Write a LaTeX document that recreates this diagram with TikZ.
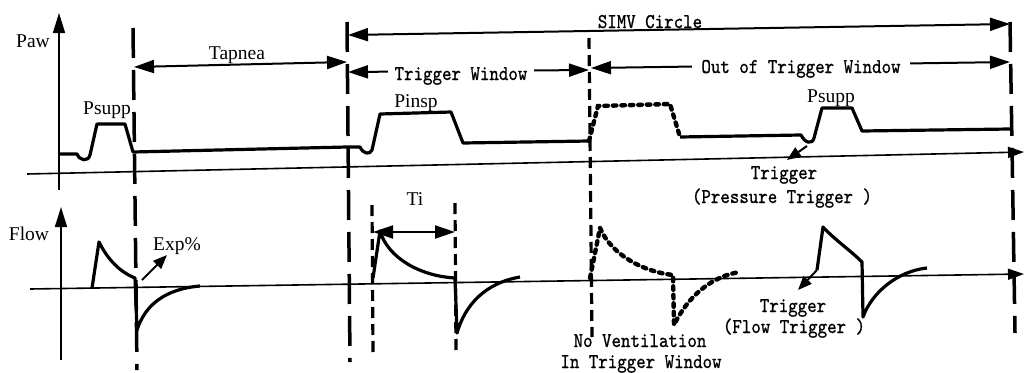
\documentclass[tikz,border=0pt]{standalone}
\usepackage{fontspec}
\setmainfont{Liberation Serif}
\newfontfamily\simfont[FakeStretch=0.86,FakeBold=0.8]{lmmono10-regular.otf}
\usetikzlibrary{arrows.meta}
\begin{document}
\begin{tikzpicture}[x=1pt,y=-1pt,
 wave/.style={line width=3.2pt, line join=round},
 dotwave/.style={line width=4.4pt, line cap=round, dash pattern=on 3.5pt off 5pt},
 bigdash/.style={line width=3.5pt, dash pattern=on 30pt off 12pt},
 smalldash/.style={line width=3.2pt, dash pattern=on 11pt off 6pt},
 baseln/.style={line width=1.6pt, -{Triangle[length=16pt,width=11pt]}},
 axisln/.style={line width=1.6pt, -{Triangle[length=20pt,width=12pt]}},
 dimarrow/.style={line width=2pt, {Triangle[length=20pt,width=13pt]}-{Triangle[length=20pt,width=13pt]}},
 ptr/.style={line width=2pt, -{Triangle[length=14pt,width=11pt]}},
 serif/.style={font=\fontsize{19.5}{20}\selectfont, inner sep=0pt, anchor=base},
 mono/.style={font=\simfont\fontsize{21}{22}\selectfont, inner sep=0pt, anchor=base},
]
\useasboundingbox (0,0) rectangle (1024,372);

% axes and base lines
\coordinate (pawA) at (59,190); \coordinate (pawB) at (59,13);
\coordinate (flwA) at (61,360); \coordinate (flwB) at (61,207);
\coordinate (pbA) at (27,174); \coordinate (pbB) at (1024,152);
\coordinate (fbA) at (30,289); \coordinate (fbB) at (1024,274);
\draw[axisln] (pawA) -- (pawB);
\draw[axisln] (flwA) -- (flwB);
\draw[baseln] (pbA) -- (pbB);
\draw[baseln] (fbA) -- (fbB);

% vertical dashed lines
\coordinate (l1a) at (133,28);  \coordinate (l1b) at (137,370);
\coordinate (l2a) at (347,22);  \coordinate (l2b) at (350,362);
\coordinate (l3a) at (589,38);  \coordinate (l3b) at (592,337);
\coordinate (l4a) at (1010,22); \coordinate (l4b) at (1015,333);
\coordinate (ti1a) at (372,205); \coordinate (ti1b) at (373,353);
\coordinate (ti2a) at (455,203); \coordinate (ti2b) at (456,352);
\draw[bigdash] (l1a) -- (l1b);
\draw[bigdash] (l2a) -- (l2b);
\draw[bigdash] (l4a) -- (l4b);
\draw[smalldash] (l3a) -- (l3b);
\draw[smalldash] (ti1a) -- (ti1b);
\draw[smalldash] (ti2a) -- (ti2b);

% pressure waveform
\draw[wave] (58,154) -- (77,154) .. controls (80,161) and (88,162) .. (90,155)
  -- (97,124) -- (125,124) -- (133,152) -- (347,147) -- (360,147)
  .. controls (363,154) and (370,155) .. (372,150) -- (380,114) -- (451,112)
  -- (463,143) -- (589,141);
\draw[dotwave] (589,141) -- (598,106) -- (670,104) -- (680,137);
\draw[wave] (680,137) -- (801,135) .. controls (805,143) and (812,145) .. (814,138)
  -- (822,108) -- (852,108) -- (862,131) -- (1010,129);

% flow waveform
\draw[wave] (92,288) -- (99,242) .. controls (108,260) and (120,272) .. (135,278)
  -- (137,330) .. controls (145,305) and (165,289) .. (200,286);
\draw[wave] (373,278) -- (380,231) .. controls (388,258) and (420,276) .. (455,278)
  -- (457,333) .. controls (465,305) and (485,283) .. (520,277);
\draw[dotwave] (590,278) -- (600,228) .. controls (612,256) and (645,272) .. (673,275)
  -- (674,325) .. controls (688,296) and (712,276) .. (740,272);
\draw[wave] (817,270) -- (823,227) .. controls (835,240) and (850,250) .. (862,262)
  -- (863,317) .. controls (872,292) and (898,271) .. (927,268);

% dimension arrows
\coordinate (t1) at (134,67);  \coordinate (t2) at (347,62);
\coordinate (s1) at (348,35);  \coordinate (s2) at (1010,24);
\coordinate (w1) at (348,72);  \coordinate (w2) at (589,70);
\coordinate (o1) at (591,68);  \coordinate (o2) at (1010,62);
\coordinate (d1) at (373,232); \coordinate (d2) at (455,232);
\draw[dimarrow] (t1) -- (t2);
\draw[dimarrow] (s1) -- (s2);
\draw[dimarrow] (w1) -- (w2);
\draw[dimarrow] (o1) -- (o2);
\draw[dimarrow] (d1) -- (d2);

% pointer arrows
\coordinate (e1) at (142,280); \coordinate (e2) at (167,255);
\coordinate (p1) at (807,146); \coordinate (p2) at (787,160);
\coordinate (f1) at (817,270); \coordinate (f2) at (798,290);
\draw[ptr] (e1) -- (e2);
\draw[ptr] (p1) -- (p2);
\draw[ptr] (f1) -- (f2);

% labels
\node[serif] (paw) at (33,47) {Paw};
\node[serif] (flow) at (29,240) {Flow};
\node[serif] (psupp1) at (107,114) {Psupp};
\node[serif] (tapnea) at (237,59) {Tapnea};
\node[serif] (pinsp) at (416,107) {Pinsp};
\node[serif] (psupp2) at (831,102) {Psupp};
\node[serif] (exp) at (177,250) {Exp\%};
\node[serif] (ti) at (415,205) {Ti};
\node[mono] (simv) at (650,28) {SIMV Circle};
\node[mono, fill=white, inner xsep=7pt] (tw) at (461,80) {Trigger Window};
\node[mono, fill=white, inner xsep=9pt] (otw) at (801,73) {Out of Trigger Window};
\node[mono] (trig1) at (784,179) {Trigger};
\node[mono] (ptrig) at (782,203) {(Pressure Trigger )};
\node[mono] (trig2) at (793,312) {Trigger};
\node[mono] (ftrig) at (794,333) {(Flow Trigger )};
\node[mono] (nov) at (640,347) {No Ventilation};
\node[mono] (intw) at (641,368) {In Trigger Window};
\end{tikzpicture}
\end{document}
